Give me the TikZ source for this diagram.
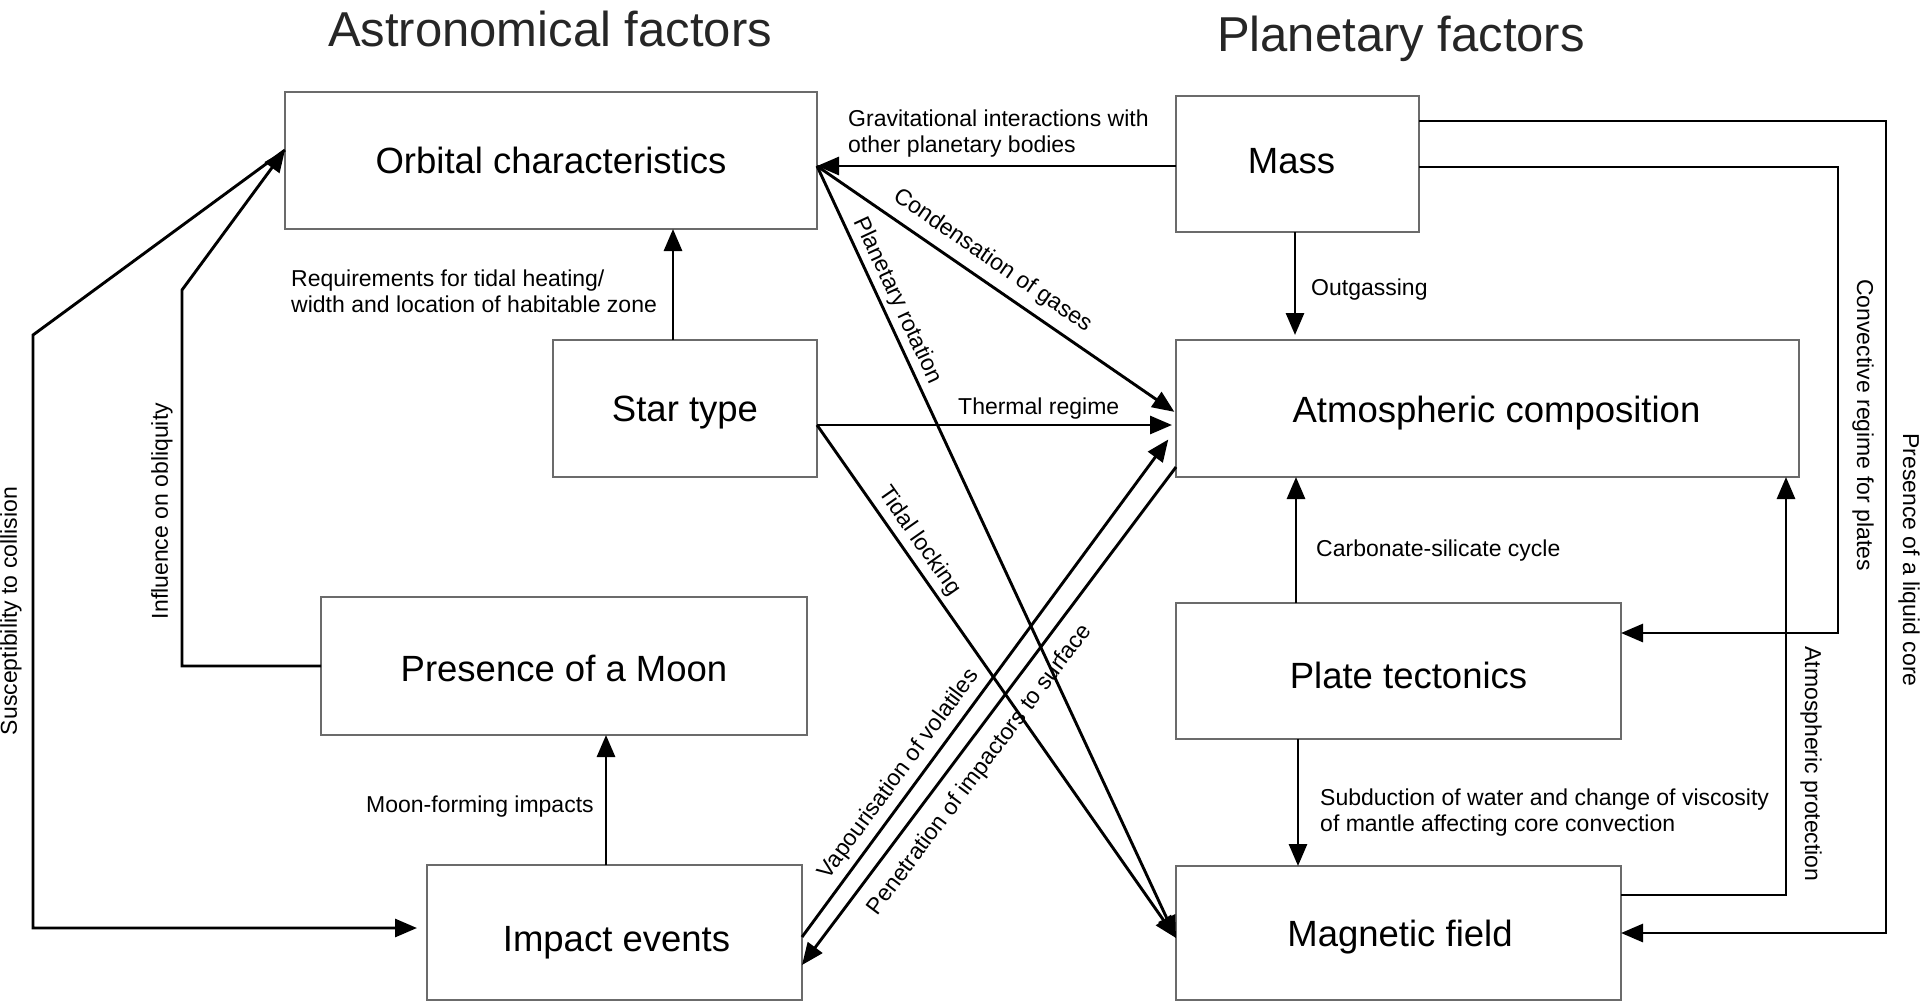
\documentclass[tikz,border=0pt]{standalone}
\usepackage{fontspec}
\setmainfont{Liberation Sans}
\usetikzlibrary{arrows.meta,calc}
\begin{document}
\begin{tikzpicture}[x=1pt,y=-1pt,
  box/.style={draw=black!58,line width=1.8pt,inner sep=0pt,outer sep=0pt,font=\fontsize{36.5}{40}\selectfont,text depth=0pt},
  lab/.style={font=\fontsize{23}{25.8}\selectfont,inner sep=0pt,align=left},
  ttl/.style={font=\fontsize{49}{55}\selectfont,inner sep=0pt,anchor=base,text=black!85},
  arr/.style={line width=2.9pt,-{Triangle[length=22pt,width=18pt]}}]
\fill[white] (0,0) rectangle (1920,1002);
\useasboundingbox (0,0) rectangle (1920,1002);

% titles
\node[ttl] (t1) at (550,46) {Astronomical factors};
\node[ttl] (t2) at (1401,51) {Planetary factors};

% boxes (text height sets the baseline below the centre)
\node[box,minimum width=532pt,minimum height=137pt,text height=26pt] (orb) at (551,160.5) {Orbital characteristics};
\node[box,minimum width=243pt,minimum height=136pt,text height=19pt] (mass) at (1297.5,164) {Mass\hspace*{12pt}};
\node[box,minimum width=264pt,minimum height=137pt,text height=25pt] (star) at (685,408.5) {Star type};
\node[box,minimum width=623pt,minimum height=137pt,text height=27pt] (atm) at (1487.5,408.5) {\hspace*{18pt}Atmospheric composition};
\node[box,minimum width=486pt,minimum height=138pt,text height=31pt] (moon) at (564,666) {Presence of a Moon};
\node[box,minimum width=445pt,minimum height=136pt,text height=35pt] (plate) at (1398.5,671) {\hspace*{20pt}Plate tectonics};
\node[box,minimum width=375pt,minimum height=135pt,text height=37pt] (imp) at (614.5,932.5) {\hspace*{4pt}Impact events};
\node[box,minimum width=445pt,minimum height=134pt,text height=26pt] (mag) at (1398.5,933) {\hspace*{3pt}Magnetic field};

% helper coordinates
\coordinate (orbE) at ($(orb.east)+(0,5.5)$);
\coordinate (orbW) at ($(orb.west)+(0,-10.5)$);
\coordinate (starE) at ($(star.east)+(0,16.5)$);
\coordinate (s1) at ($(star.north)+(-12,0)$);
\coordinate (og) at ($(mass.south)+(-2.5,0)$);
\coordinate (cb) at ($(plate.north)+(-102.5,0)$);
\coordinate (sd) at ($(plate.south)+(-100.5,0)$);
\coordinate (mf) at ($(imp.north)+(-8.5,0)$);
\coordinate (obB) at (182,290);
\coordinate (suB) at (33,335);
\coordinate (cvR) at (1838,167);
\coordinate (lqR) at (1886,121);

% connectors
\draw[arr] ($(mass.west)+(0,2)$) -- (orbE);
\draw[arr] (s1) -- (s1 |- orb.south);
\draw[arr,shorten >=4pt] (starE) -- (starE -| atm.west);
\draw[arr,shorten >=2pt] (orbE) -- node[lab,sloped,above=9pt,pos=0.455]{Condensation of gases} ($(atm.west)+(0,4.5)$);
\draw[arr] (orbE) -- node[lab,sloped,above=4pt,pos=0.183]{Planetary rotation} ($(mag.west)+(0,5)$);
\draw[arr] (starE) -- node[lab,sloped,above=5pt,pos=0.246]{Tidal locking} ($(mag.west)+(0,5)$);
\draw[arr,shorten >=13pt] ($(imp.east)+(0,4.5)$) -- node[lab,sloped,above=6pt,pos=0.299]{Vapourisation of volatiles} ($(atm.west)+(0,20.5)$);
\draw[arr] ($(atm.west)+(0,58.5)$) -- node[lab,sloped,below=13pt,pos=0.578]{Penetration of impactors to surface} ($(imp.east)+(0,32.5)$);
\draw[arr,shorten >=5pt] (og) -- (og |- atm.north);
\draw[arr] (cb) -- (cb |- atm.south);
\draw[arr] (sd) -- (sd |- mag.north);
\draw[arr] (mf) -- (mf |- moon.south);
\draw[arr] (moon.west) -| (obB) -- (orbW);
\draw[arr,shorten >=10pt] (orbW) -- (suB) |- ($(imp.west)+(0,-4.5)$);
\draw[arr] ($(mass.east)+(0,3)$) -- (cvR) |- ($(plate.east)+(0,-38)$);
\draw[arr] ($(mass.east)+(0,-43)$) -- (lqR) |- (mag.east);
\draw[arr] ($(mag.east)+(0,-38)$) -| ($(atm.south)+(298.5,0)$);

% labels (multi-line: base = last line)
\node[lab,anchor=base west] (tgrav) at (848,152.5) {Gravitational interactions with\\other planetary bodies};
\node[lab,anchor=base west] (treq) at (291,312) {Requirements for tidal heating/\\width and location of habitable zone};
\node[lab,anchor=base west] (tthr) at (958,414) {Thermal regime};
\node[lab,anchor=base west] (tout) at (1311,295) {Outgassing};
\node[lab,anchor=base west] (tcarb) at (1316,556) {Carbonate-silicate cycle};
\node[lab,anchor=base west] (tsub) at (1320,831) {Subduction of water and change of viscosity\\of mantle affecting core convection};
\node[lab,anchor=base west] (tmf) at (366,812) {Moon-forming impacts};
\node[lab,rotate=90] (tsus) at (11,611) {Susceptibility to collision};
\node[lab,rotate=90] (tobl) at (162,511) {Influence on obliquity};
\node[lab,rotate=-90] (tconv) at (1863,425) {Convective regime for plates};
\node[lab,rotate=-90] (tliq) at (1909,560) {Presence of a liquid core};
\node[lab,rotate=-90] (tatp) at (1811,764) {Atmospheric protection};
\end{tikzpicture}
\end{document}
